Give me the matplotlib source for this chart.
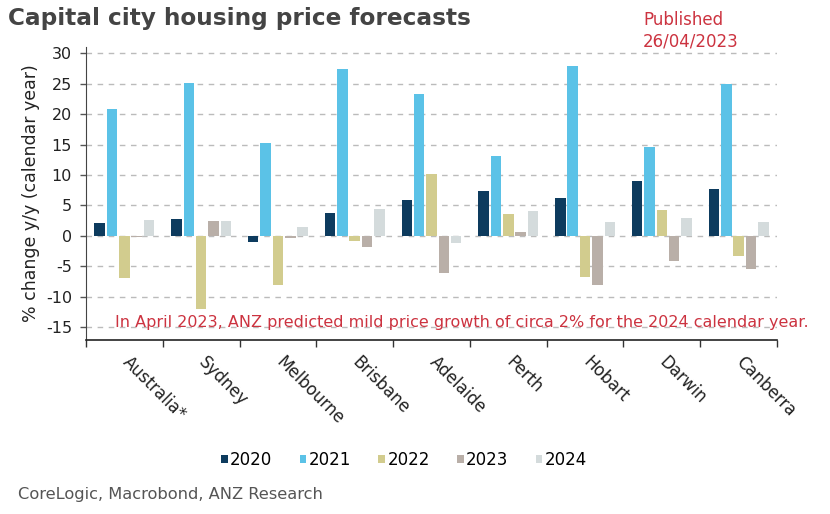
import matplotlib
matplotlib.use("Agg")
import matplotlib.pyplot as plt
import numpy as np

categories = ["Australia*", "Sydney", "Melbourne", "Brisbane", "Adelaide",
              "Perth", "Hobart", "Darwin", "Canberra"]
years = ["2020", "2021", "2022", "2023", "2024"]
v2020 = [2.1, 2.7, -1.0, 3.8, 5.9, 7.3, 6.2, 9.0, 7.7]
v2021 = [20.9, 25.2, 15.2, 27.5, 23.3, 13.1, 27.9, 14.6, 25.0]
v2022 = [-6.9, -12.0, -8.0, -0.9, 10.1, 3.6, -6.8, 4.3, -3.3]
v2023 = [-0.2, 2.5, -0.3, -1.9, -6.1, 0.6, -8.0, -4.2, -5.4]
v2024 = [2.6, 2.5, 1.5, 4.5, -1.2, 4.1, 2.3, 2.9, 2.3]
series = [v2020, v2021, v2022, v2023, v2024]
colors = ["#0D3B5E", "#5BC2E7", "#D2CC8E", "#B9AFA8", "#D4DBDC"]
yticks = [30, 25, 20, 15, 10, 5, 0, -5, -10, -15]

fig = plt.figure(figsize=(8.3, 5.14), dpi=100)
ax = fig.add_axes([86/830, 1-340/514, (777-86)/830, (340-47.2)/514])

x = np.arange(len(categories))
step = 0.161
width = 0.137
for i, (vals, c, yr) in enumerate(zip(series, colors, years)):
    ax.bar(x + (i-2)*step, vals, width=width, color=c, label=yr, zorder=3)

ax.set_xlim(-0.5, len(categories)-0.5)
ax.set_ylim(-17.1, 31)
ax.set_yticks(yticks)
ax.set_yticklabels([str(t) for t in yticks], fontsize=11.5, color="#222222")
for t in yticks:
    ax.axhline(t, color="#BBBBBB", lw=1.0, ls=(0, (4, 4)), zorder=1)

ax.set_xticks(np.arange(len(categories)+1) - 0.5)
ax.set_xticklabels([])
ax.tick_params(axis="x", direction="out", length=5, color="#333333", width=1)
ax.tick_params(axis="y", direction="out", length=4, color="#555555", width=1, pad=6)
for cx, lab in zip(x, categories):
    ax.text(cx + 0.09, -19.2, lab, rotation=-45, rotation_mode="anchor",
            ha="left", va="top", fontsize=12, color="#222222",
            transform=ax.transData, clip_on=False)

for s in ["top", "right"]:
    ax.spines[s].set_visible(False)
ax.spines["left"].set_color("#444444")
ax.spines["bottom"].set_color("#222222")
ax.spines["bottom"].set_linewidth(1.2)

fig.text(31/830, 1-193/514, "% change y/y (calendar year)", rotation=90,
         ha="center", va="center", fontsize=12.5, color="#222222")

fig.text(8/830, 1-18/514, "Capital city housing price forecasts", fontsize=16.7,
         fontweight="bold", color="#444444", ha="left", va="center")
fig.text(643/830, 1-20/514, "Published", fontsize=12, color="#CC3340", ha="left", va="center")
fig.text(643/830, 1-42/514, "26/04/2023", fontsize=12, color="#CC3340", ha="left", va="center")

fig.text(115/830, 1-322/514,
         "In April 2023, ANZ predicted mild price growth of circa 2% for the 2024 calendar year.",
         fontsize=11.5, color="#CC3340", ha="left", va="center")

leg = fig.legend(loc="center", bbox_to_anchor=(404/830, 1-460/514), ncol=5, frameon=False,
                 fontsize=12, handlelength=0.4, handleheight=0.4, handletextpad=0.15,
                 columnspacing=1.63)

fig.text(18/830, 1-494/514, "CoreLogic, Macrobond, ANZ Research", fontsize=11.7,
         color="#555555", ha="left", va="center")

fig.savefig("out.png", dpi=100)
